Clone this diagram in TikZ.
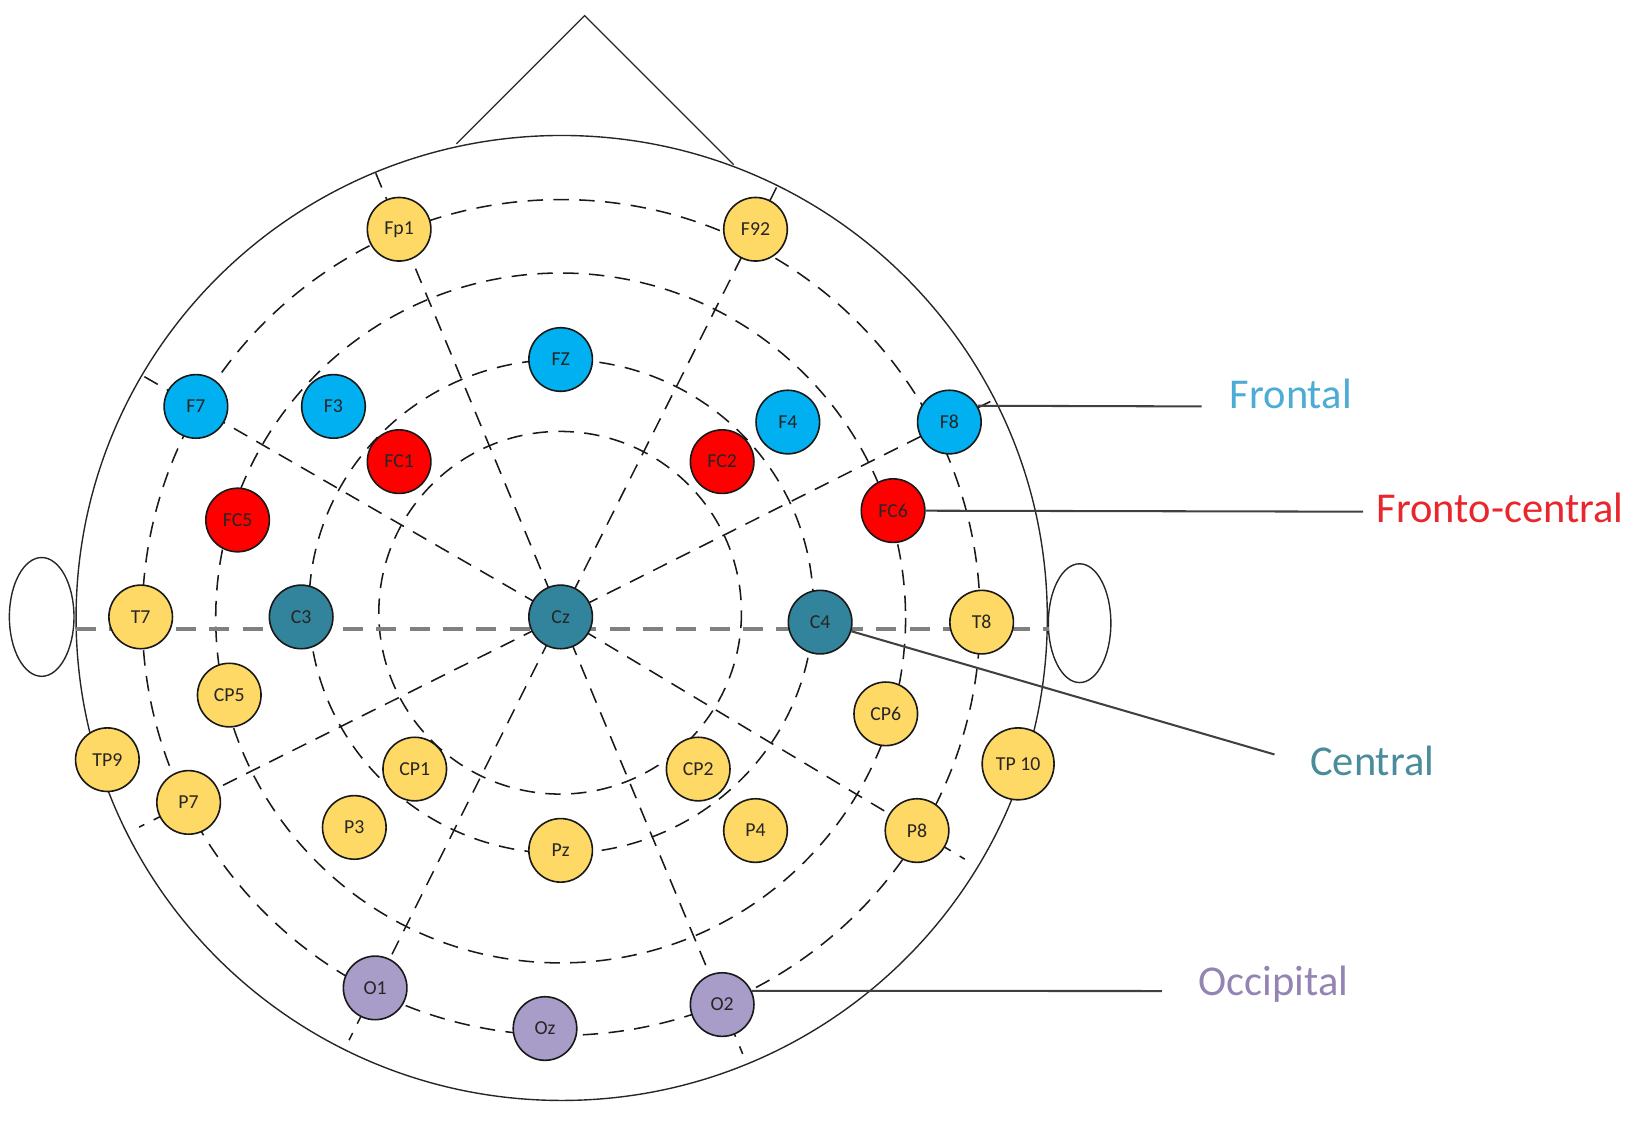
\documentclass[tikz,border=0pt]{standalone}
\usepackage{fontspec}
\setmainfont{Carlito}
\usetikzlibrary{calc,backgrounds}
\definecolor{eyel}{HTML}{FFD966}
\definecolor{eblue}{HTML}{00B0F0}
\definecolor{ered}{HTML}{FF0000}
\definecolor{eteal}{HTML}{31849B}
\definecolor{epurp}{HTML}{A89CC8}
\definecolor{lblue}{HTML}{4BACD6}
\definecolor{lred}{HTML}{E8262C}
\definecolor{lteal}{HTML}{4A8C9C}
\definecolor{lpurp}{HTML}{9484B4}
\begin{document}
\begin{tikzpicture}[x=0.25mm,y=-0.25mm,
  elec/.style={circle,draw=black!90,line width=1.1pt,minimum size=15.25mm,inner sep=0pt,
               font=\fontsize{13.5}{15}\selectfont,text=black!85},
  bigelec/.style={minimum size=17.25mm},
  ring/.style={draw=black!90,line width=1.05pt,dash pattern=on 3.7mm off 2.5mm},
  midline/.style={draw=black!50,line width=2.8pt,dash pattern=on 4.8mm off 3.2mm},
  outline/.style={draw=black!85,line width=0.95pt},
  lead/.style={draw=black!75,line width=1.4pt},
  region/.style={anchor=base west,font=\fontsize{29}{34}\selectfont,inner sep=0pt}]
\useasboundingbox (0,0) rectangle (1568,1077);

% electrodes
\node[elec,fill=eyel]  (Fp1)  at (383,220) {Fp1};
\node[elec,fill=eyel]  (Fp2)  at (725,220) {F92};
\node[elec,fill=eblue] (Fz)   at (538,345) {FZ};
\node[elec,fill=eblue] (F7)   at (188,390) {F7};
\node[elec,fill=eblue] (F3)   at (320,390) {F3};
\node[elec,fill=eblue] (F4)   at (756,405) {F4};
\node[elec,fill=eblue] (F8)   at (911,405) {F8};
\node[elec,fill=ered]  (FC1)  at (383,443) {FC1};
\node[elec,fill=ered]  (FC2)  at (693,443) {FC2};
\node[elec,fill=ered]  (FC5)  at (228,499) {FC5};
\node[elec,fill=ered]  (FC6)  at (857,490) {FC6};
\node[elec,fill=eyel]  (T7)   at (135,592) {T7};
\node[elec,fill=eteal] (C3)   at (289,592) {C3};
\node[elec,fill=eteal] (Cz)   at (538,592) {Cz};
\node[elec,fill=eteal] (C4)   at (787,597) {C4};
\node[elec,fill=eyel]  (T8)   at (942,597) {T8};
\node[elec,fill=eyel]  (CP5)  at (220,667) {CP5};
\node[elec,fill=eyel]  (CP6)  at (850,685) {CP6};
\node[elec,fill=eyel]  (TP9)  at (103,729) {TP9};
\node[elec,fill=eyel,bigelec] (TP10) at (977,733) {TP 10};
\node[elec,fill=eyel]  (P7)   at (181,770) {P7};
\node[elec,fill=eyel]  (CP1)  at (398,738) {CP1};
\node[elec,fill=eyel]  (CP2)  at (670,738) {CP2};
\node[elec,fill=eyel]  (P3)   at (340,794) {P3};
\node[elec,fill=eyel]  (Pz)   at (538,816) {Pz};
\node[elec,fill=eyel]  (P4)   at (725,797) {P4};
\node[elec,fill=eyel]  (P8)   at (880,797) {P8};
\node[elec,fill=epurp] (O1)   at (360,948) {O1};
\node[elec,fill=epurp] (Oz)   at (523,987) {Oz};
\node[elec,fill=epurp] (O2)   at (693,964) {O2};

% free ends
\coordinate (noseL) at (438,138);
\coordinate (noseT) at (561,15);
\coordinate (noseR) at (704,158);
\coordinate (midL) at (73,604);
\coordinate (midR) at (1007,604);
\coordinate (fEnd)  at (1153,390);
\coordinate (fcEnd) at (1308,491);
\coordinate (cEnd)  at (1223,724);
\coordinate (oEnd)  at (1115,951);

\begin{scope}[on background layer]
  % head, nose, ears
  \draw[outline] (539,593) ellipse [x radius=466, y radius=463];
  \draw[outline] (noseL) -- (noseT) -- (noseR);
  \draw[outline] (40,592) ellipse [x radius=31, y radius=57];
  \draw[outline] (1036,598) ellipse [x radius=30, y radius=57];
  % concentric rings
  \draw[ring] (537.5,588) ellipse [x radius=174, y radius=174];
  \draw[ring] (538.5,582) ellipse [x radius=242, y radius=237];
  \draw[ring] (538,593) ellipse [x radius=331, y radius=331];
  \draw[ring] (538.5,592.5) ellipse [x radius=402, y radius=401];
  % radial lines
  \draw[ring] (Cz.center) -- ($(Cz)!1.154!(Fp1)$);
  \draw[ring] (Cz.center) -- ($(Cz)!1.117!(Fp2)$);
  \draw[ring] (Cz.center) -- ($(Cz)!1.151!(F7)$);
  \draw[ring] (Cz.center) -- ($(Cz)!1.114!(F8)$);
  \draw[ring] (Cz.center) -- ($(Cz)!1.133!(P7)$);
  \draw[ring] (Cz.center) -- ($(Cz)!1.134!(P8)$);
  \draw[ring] (Cz.center) -- ($(Cz)!1.141!(O1)$);
  \draw[ring] (Cz.center) -- ($(Cz)!1.127!(O2)$);
  % midline
  \draw[midline] (midL) -- (midR);
\end{scope}

% region leads and labels
\draw[lead] (F8.30) -- (fEnd);
\draw[lead] (FC6) -- (fcEnd);
\draw[lead] (C4) -- (cEnd);
\draw[lead] (O2.25) -- (oEnd);
\node[region,text=lblue] (lF)  at (1180,392) {Frontal};
\node[region,text=lred]  (lFC) at (1321,501) {Fronto-central};
\node[region,text=lteal] (lC)  at (1257,744) {Central};
\node[region,text=lpurp] (lO)  at (1150,955) {Occipital};
\end{tikzpicture}
\end{document}
